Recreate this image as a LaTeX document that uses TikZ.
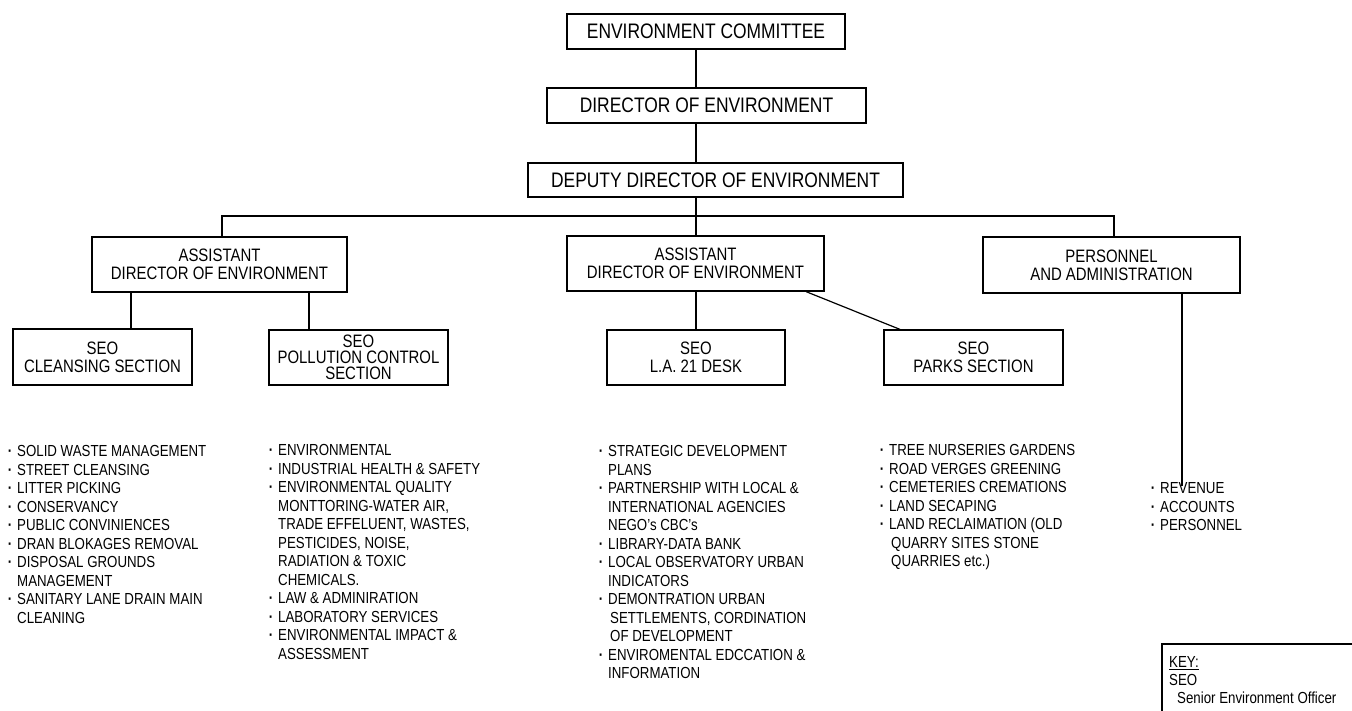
\documentclass[tikz,border=0pt]{standalone}
\usepackage{fontspec}
\setmainfont[FakeStretch=0.83]{Liberation Sans}
\newcommand\bul{\llap{\textbf{·}\hspace{5pt}}}
\begin{document}
\begin{tikzpicture}[x=1pt,y=-1pt,
  unitbox/.style={draw, line width=1.2pt, inner sep=0pt, align=center},
  topbox/.style={unitbox, font=\fontsize{21}{24}\selectfont},
  subbox/.style={unitbox, font=\fontsize{18}{18}\selectfont},
  duty/.style={anchor=north west, inner sep=0pt, align=left, font=\fontsize{16}{18.5}\selectfont},
  link/.style={line width=1.2pt}]
\useasboundingbox (0,0) rectangle (1352,711);
\fill[white] (0,0) rectangle (1352,711);

% upper chain
\node[topbox, minimum width=278pt, minimum height=35pt] (ec)  at (706,31.5)  {ENVIRONMENT COMMITTEE};
\node[topbox, minimum width=319pt, minimum height=35pt] (doe) at (706.5,105.5) {DIRECTOR OF ENVIRONMENT};
\node[topbox, minimum width=375pt, minimum height=34pt] (dep) at (715.5,180) {DEPUTY DIRECTOR OF ENVIRONMENT};

% second tier
\node[subbox, minimum width=255pt, minimum height=55pt] (adeL) at (219.5,264.5) {ASSISTANT\\DIRECTOR OF ENVIRONMENT};
\node[subbox, minimum width=257pt, minimum height=55pt] (adeM) at (695.5,263.5) {ASSISTANT\\DIRECTOR OF ENVIRONMENT};
\node[subbox, minimum width=257pt, minimum height=56pt] (pa)   at (1111.5,265)  {PERSONNEL\\AND ADMINISTRATION};

% sections
\node[subbox, minimum width=179pt, minimum height=56pt] (sCl) at (102.5,357) {SEO\\CLEANSING SECTION};
\node[subbox, minimum width=179pt, minimum height=55pt, font=\fontsize{18}{16}\selectfont] (sPc) at (358.5,357.5) {SEO\\POLLUTION CONTROL\\SECTION};
\node[subbox, minimum width=178pt, minimum height=55pt] (sLa) at (696,357.5) {SEO\\L.A. 21 DESK};
\node[subbox, minimum width=179pt, minimum height=55pt] (sPk) at (973.5,357.5) {SEO\\PARKS SECTION};

% connector positions
\coordinate (trunk) at (696,216);
\coordinate (busL) at (222,216);
\coordinate (busR) at (1114,216);
\coordinate (dCl) at (131,0);
\coordinate (dPc) at (309,0);
\coordinate (dPkA) at (806,0);
\coordinate (dPkB) at (900,0);
\coordinate (dPa) at (1182,0);
\coordinate (dPaEnd) at (1182,486);

\draw[link] (ec.south -| trunk) -- (doe.north -| trunk);
\draw[link] (doe.south -| trunk) -- (dep.north -| trunk);
\draw[link] (dep.south -| trunk) -- (adeM.north -| trunk);
\draw[link] (adeL.north -| busL) |- (busR) -- (pa.north -| busR);
\draw[link] (adeL.south -| dCl) -- (sCl.north -| dCl);
\draw[link] (adeL.south -| dPc) -- (sPc.north -| dPc);
\draw[link] (adeM.south -| trunk) -- (sLa.north -| trunk);
\draw[link] (adeM.south -| dPkA) -- (sPk.north -| dPkB);
\draw[link] (pa.south -| dPa) -- (dPaEnd);

% duties
\node[duty] (lCl) at (17,445.3) {\bul SOLID WASTE MANAGEMENT\\
\bul STREET CLEANSING\\
\bul LITTER PICKING\\
\bul CONSERVANCY\\
\bul PUBLIC CONVINIENCES\\
\bul DRAN BLOKAGES REMOVAL\\
\bul DISPOSAL GROUNDS\\
MANAGEMENT\\
\bul SANITARY LANE DRAIN MAIN\\
CLEANING};

\node[duty] (lPc) at (278,444.3) {\bul ENVIRONMENTAL\\
\bul INDUSTRIAL HEALTH \& SAFETY\\
\bul ENVIRONMENTAL QUALITY\\
MONTTORING-WATER AIR,\\
TRADE EFFELUENT, WASTES,\\
PESTICIDES, NOISE,\\
RADIATION \& TOXIC\\
CHEMICALS.\\
\bul LAW \& ADMINIRATION\\
\bul LABORATORY SERVICES\\
\bul ENVIRONMENTAL IMPACT \&\\
ASSESSMENT};

\node[duty] (lLa) at (608,445.3) {\bul STRATEGIC DEVELOPMENT\\
PLANS\\
\bul PARTNERSHIP WITH LOCAL \&\\
INTERNATIONAL AGENCIES\\
NEGO’s CBC’s\\
\bul LIBRARY-DATA BANK\\
\bul LOCAL OBSERVATORY URBAN\\
INDICATORS\\
\bul DEMONTRATION URBAN\\
\hspace*{2pt}SETTLEMENTS, CORDINATION\\
\hspace*{2pt}OF DEVELOPMENT\\
\bul ENVIROMENTAL EDCCATION \&\\
INFORMATION};

\node[duty] (lPk) at (889,444.3) {\bul TREE NURSERIES GARDENS\\
\bul ROAD VERGES GREENING\\
\bul CEMETERIES CREMATIONS\\
\bul LAND SECAPING\\
\bul LAND RECLAIMATION (OLD\\
\hspace*{2pt}QUARRY SITES STONE\\
\hspace*{2pt}QUARRIES etc.)};

\node[duty] (lPa) at (1160,482.7) {\bul REVENUE\\
\bul ACCOUNTS\\
\bul PERSONNEL};

% key
\draw[line width=1.2pt] (1162,644) rectangle (1380,740);
\node[duty, font=\fontsize{16}{18}\selectfont] (key) at (1169,656.3) {\underline{KEY:}\\
SEO\\
\hspace*{8pt}Senior Environment Officer};
\end{tikzpicture}
\end{document}
